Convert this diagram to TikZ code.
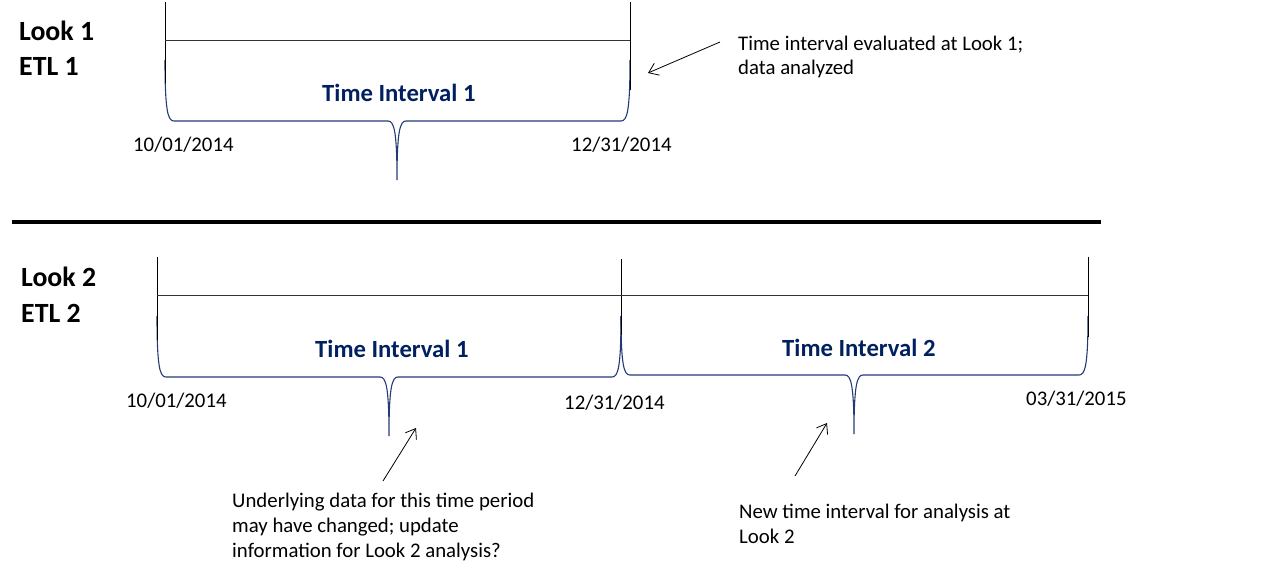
\documentclass[tikz,border=0pt]{standalone}
\usepackage{fontspec}
\setmainfont{Carlito}
\usetikzlibrary{arrows.meta}
\definecolor{bracecol}{RGB}{34,58,118}
\definecolor{titlecol}{RGB}{0,32,96}
\newcommand\bracedraw[6]{%
  \draw[bracestyle] (#1,#3) .. controls (#1,#4-9) and (#1+3,#4) .. (#1+9,#4)
    -- (#5-9,#4) .. controls (#5-3,#4) and (#5,#4+10) .. (#5,#6)
    .. controls (#5,#4+10) and (#5+3,#4) .. (#5+9,#4)
    -- (#2-9,#4) .. controls (#2-3,#4) and (#2,#4-9) .. (#2,#3);}
\begin{document}
\begin{tikzpicture}[x=1pt,y=-1pt,
  bodytext/.style={inner sep=0pt,anchor=base west,align=left,font=\fontsize{20.8}{24.7}\selectfont},
  looktext/.style={inner sep=0pt,anchor=base west,font=\fontsize{27.8}{33}\selectfont\bfseries},
  titletext/.style={inner sep=0pt,anchor=base west,text=titlecol,font=\fontsize{24.7}{29}\selectfont\bfseries},
  tickline/.style={draw=black,line width=0.8pt},
  axisline/.style={draw=black!80,line width=0.8pt},
  bracestyle/.style={draw=bracecol,line width=1.1pt},
  note/.style={draw=black,line width=0.8pt,-{Straight Barb[length=9pt,width=13pt,line width=0.8pt]}},
  sepline/.style={draw=black,line width=4pt}]
\useasboundingbox (0,0) rectangle (1288,572);

% ---------- top panel ----------
\node[looktext] (look1) at (19,41) {Look 1};
\node[looktext] (etl1) at (19,76) {ETL 1};
\coordinate (a1top) at (165,2);
\coordinate (a1bot) at (165,83);
\coordinate (b1top) at (630,2);
\coordinate (b1bot) at (630,90);
\coordinate (a1mid) at (165,40);
\coordinate (b1mid) at (630,40);
\bracedraw{165}{630}{60}{121}{397}{180}
\draw[tickline] (a1top) -- (a1bot);
\draw[tickline] (b1top) -- (b1bot);
\draw[axisline] (a1mid) -- (b1mid);
\node[titletext] (ti1a) at (322,102) {Time Interval 1};
\node[bodytext] (d1a) at (133,152) {10/01/2014};
\node[bodytext] (d1b) at (571,152) {12/31/2014};
\node[bodytext] (n1) at (738,75) {Time interval evaluated at Look 1;\\data analyzed};
\coordinate (n1tail) at (720,42);
\coordinate (n1head) at (648,73);
\draw[note] (n1tail) -- (n1head);

% ---------- separator ----------
\coordinate (sepL) at (12,222);
\coordinate (sepR) at (1101,222);
\draw[sepline] (sepL) -- (sepR);

% ---------- bottom panel ----------
\node[looktext] (look2) at (21,287) {Look 2};
\node[looktext] (etl2) at (21,322) {ETL 2};
\coordinate (a2top) at (157,257);
\coordinate (a2bot) at (157,340);
\coordinate (m2top) at (621,259);
\coordinate (m2bot) at (621,335);
\coordinate (c2top) at (1088,257);
\coordinate (c2bot) at (1088,337);
\coordinate (a2mid) at (157,295);
\coordinate (c2mid) at (1088,295);
\bracedraw{157}{621}{316}{377}{389}{436}
\bracedraw{621}{1088}{316}{375}{854}{434}
\draw[tickline] (a2top) -- (a2bot);
\draw[tickline] (m2top) -- (m2bot);
\draw[tickline] (c2top) -- (c2bot);
\draw[axisline] (a2mid) -- (c2mid);
\node[titletext] (ti2a) at (315,357) {Time Interval 1};
\node[titletext] (ti2b) at (782,356) {Time Interval 2};
\node[bodytext] (d2a) at (126,407) {10/01/2014};
\node[bodytext] (d2b) at (564,409) {12/31/2014};
\node[bodytext] (d2c) at (1026,405) {03/31/2015};
\node[bodytext] (n2) at (232,557) {Underlying data for this time period\\may have changed; update\\information for Look 2 analysis?};
\node[bodytext] (n3) at (739,543) {New time interval for analysis at\\Look 2};
\coordinate (n2tail) at (383,481);
\coordinate (n2head) at (416,428);
\coordinate (n3tail) at (795,476);
\coordinate (n3head) at (827,423);
\draw[note] (n2tail) -- (n2head);
\draw[note] (n3tail) -- (n3head);
\end{tikzpicture}
\end{document}
